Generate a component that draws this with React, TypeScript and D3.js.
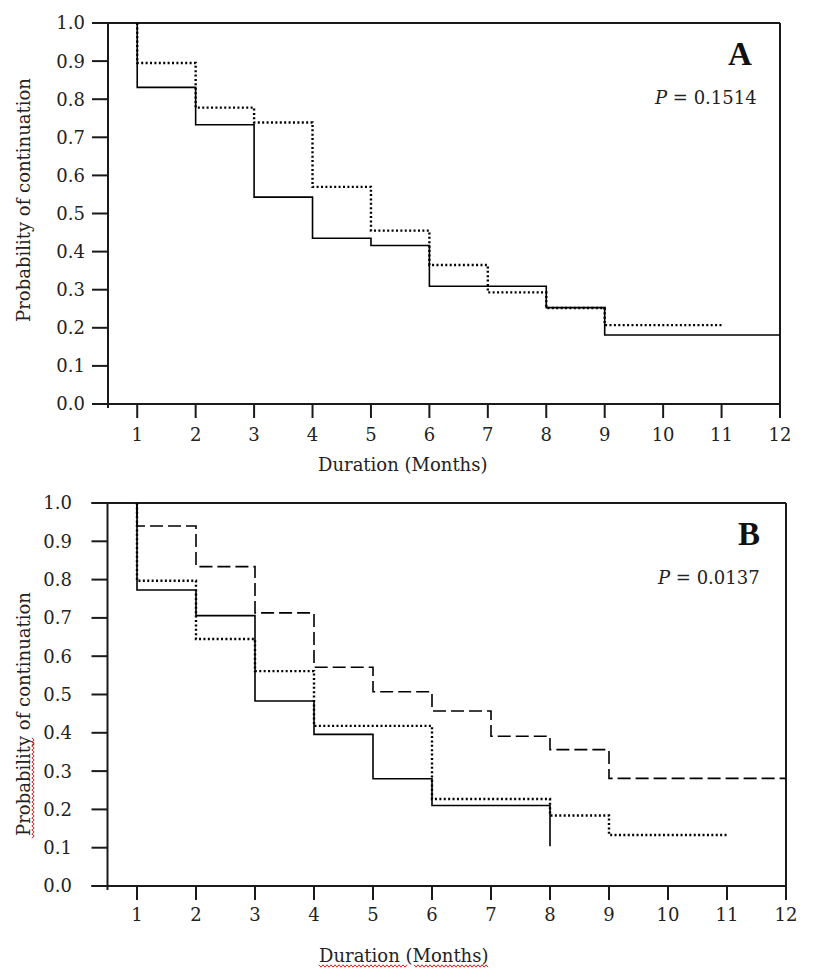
import React from 'react';
import * as d3 from 'd3';

// ---- shared axis values ----
const months = [1, 2, 3, 4, 5, 6, 7, 8, 9, 10, 11, 12];
const probTicks = [0, 0.1, 0.2, 0.3, 0.4, 0.5, 0.6, 0.7, 0.8, 0.9, 1.0];

// ---- Panel A ----
const aSolidTimes = [1, 2, 3, 4, 5, 6, 8, 9];
const aSolidSurv = [0.831, 0.733, 0.543, 0.435, 0.416, 0.309, 0.253, 0.181];
const aSolidEnd = 12;
const aDottedTimes = [1, 2, 3, 4, 5, 6, 7, 8, 9];
const aDottedSurv = [0.895, 0.778, 0.739, 0.57, 0.455, 0.365, 0.293, 0.252, 0.207];
const aDottedEnd = 11;
const aLabel = 'A';
const aP = '0.1514';

// ---- Panel B ----
const bSolidTimes = [1, 2, 3, 4, 5, 6, 8];
const bSolidSurv = [0.773, 0.706, 0.483, 0.396, 0.28, 0.21, 0.104];
const bSolidEnd = 8;
const bDottedTimes = [1, 2, 3, 4, 6, 8, 9];
const bDottedSurv = [0.797, 0.645, 0.561, 0.418, 0.227, 0.184, 0.133];
const bDottedEnd = 11;
const bDashedTimes = [1, 2, 3, 4, 5, 6, 7, 8, 9];
const bDashedSurv = [0.94, 0.834, 0.713, 0.571, 0.507, 0.457, 0.391, 0.356, 0.281];
const bDashedEnd = 12;
const bLabel = 'B';
const bP = '0.0137';

const FONT = '"DejaVu Serif", serif';

type Series = { times: number[]; surv: number[]; end: number; style: 'solid' | 'dotted' | 'dashed' };

function stepPoints(s: Series): [number, number][] {
  const pts: [number, number][] = [[s.times[0], 1.0]];
  s.times.forEach((t, i) => pts.push([t, s.surv[i]]));
  const last = s.times[s.times.length - 1];
  if (s.end > last) pts.push([s.end, s.surv[s.surv.length - 1]]);
  return pts;
}

const styleMap: Record<string, any> = {
  solid: { strokeWidth: 1.6 },
  dotted: { strokeWidth: 2.4, strokeDasharray: '2 2.4' },
  dashed: { strokeWidth: 1.6, strokeDasharray: '13 5' },
};

function wavy(x0: number, y0: number, len: number, vertical: boolean) {
  const pts: string[] = [];
  const step = 2;
  for (let i = 0; i <= len / step; i++) {
    const d = i * step;
    const off = i % 2 === 0 ? -1.2 : 1.2;
    pts.push(vertical ? `${x0 + off},${y0 - d}` : `${x0 + d},${y0 + off}`);
  }
  return 'M' + pts.join('L');
}

type Cfg = {
  left: number; right: number; top: number; bottom: number;
  yLabelRight: number; xLabelBase: number; xTitleX: number; xTitleBase: number;
  yTitleCenter: number; letter: string; letterX: number; letterBase: number;
  p: string; pX: number; pBase: number; series: Series[]; spell: boolean;
};

function Panel({ c }: { c: Cfg }) {
  const x = d3.scaleLinear().domain([0.5, 12]).range([c.left, c.right]);
  const y = d3.scaleLinear().domain([0, 1]).range([c.bottom, c.top]);
  const line = d3.line<[number, number]>().x(d => x(d[0])).y(d => y(d[1])).curve(d3.curveStepAfter);
  const axis = { stroke: '#1a1a1a', strokeWidth: 2, fill: 'none' };
  return (
    <g>
      {/* frame */}
      <line x1={c.left - 16} x2={c.right} y1={c.top} y2={c.top} {...axis} />
      <line x1={c.right} x2={c.right} y1={c.top} y2={c.bottom + 14} {...axis} />
      <line x1={c.left - 16} x2={c.right} y1={c.bottom} y2={c.bottom} {...axis} />
      <line x1={c.left} x2={c.left} y1={c.top} y2={c.bottom + 4} {...axis} />
      {probTicks.map(t => (
        <g key={'y' + t}>
          <line x1={c.left - 16} x2={c.left} y1={y(t)} y2={y(t)} {...axis} />
          <text x={c.yLabelRight} y={y(t)} dy="0.36em" textAnchor="end" fontFamily={FONT} fontSize={18} fill="#222">
            {d3.format('.1f')(t)}
          </text>
        </g>
      ))}
      {months.map(m => (
        <g key={'x' + m}>
          <line x1={x(m)} x2={x(m)} y1={c.bottom} y2={c.bottom + 14} {...axis} />
          <text x={x(m)} y={c.xLabelBase} textAnchor="middle" fontFamily={FONT} fontSize={18} fill="#222">{m}</text>
        </g>
      ))}
      {c.series.map((s, i) => (
        <path key={i} d={line(stepPoints(s)) || ''} fill="none" stroke="#000" {...styleMap[s.style]} />
      ))}
      <text x={c.xTitleX} y={c.xTitleBase} fontFamily={FONT} fontSize={18} fill="#222">Duration (Months)</text>
      <text transform={`translate(30,${c.yTitleCenter}) rotate(-90)`} textAnchor="middle" fontFamily={FONT} fontSize={18} fill="#222">
        Probability of continuation
      </text>
      <text x={c.letterX} y={c.letterBase} textAnchor="middle" fontFamily='"Liberation Serif", serif' fontWeight="bold" fontSize={33} fill="#111">{c.letter}</text>
      <text x={c.pX} y={c.pBase} fontFamily={FONT} fontSize={18} fill="#222">
        <tspan fontStyle="italic">P</tspan> = {c.p}
      </text>
      {c.spell && (
        <g stroke="#e02020" strokeWidth={1} fill="none">
          <path d={wavy(33, c.yTitleCenter + 124, 100, true)} />
          <path d={wavy(c.xTitleX, c.xTitleBase + 4, 88, false)} />
          <path d={wavy(c.xTitleX + 95, c.xTitleBase + 4, 74, false)} />
        </g>
      )}
    </g>
  );
}

export default function App() {
  const panelA: Cfg = {
    left: 108, right: 780, top: 23, bottom: 404,
    yLabelRight: 85, xLabelBase: 441, xTitleX: 318, xTitleBase: 471,
    yTitleCenter: 200, letter: aLabel, letterX: 740, letterBase: 65,
    p: aP, pX: 655, pBase: 104, spell: false,
    series: [
      { times: aSolidTimes, surv: aSolidSurv, end: aSolidEnd, style: 'solid' },
      { times: aDottedTimes, surv: aDottedSurv, end: aDottedEnd, style: 'dotted' },
    ],
  };
  const panelB: Cfg = {
    left: 107.5, right: 786, top: 503, bottom: 886,
    yLabelRight: 72, xLabelBase: 921, xTitleX: 319, xTitleBase: 962,
    yTitleCenter: 714, letter: bLabel, letterX: 749, letterBase: 545,
    p: bP, pX: 658, pBase: 584, spell: true,
    series: [
      { times: bSolidTimes, surv: bSolidSurv, end: bSolidEnd, style: 'solid' },
      { times: bDottedTimes, surv: bDottedSurv, end: bDottedEnd, style: 'dotted' },
      { times: bDashedTimes, surv: bDashedSurv, end: bDashedEnd, style: 'dashed' },
    ],
  };
  return (
    <svg width={817} height={976} style={{ position: 'absolute', left: 0, top: 0, background: '#fff' }}>
      <rect x={0} y={0} width={817} height={976} fill="#fff" />
      <Panel c={panelA} />
      <Panel c={panelB} />
    </svg>
  );
}
